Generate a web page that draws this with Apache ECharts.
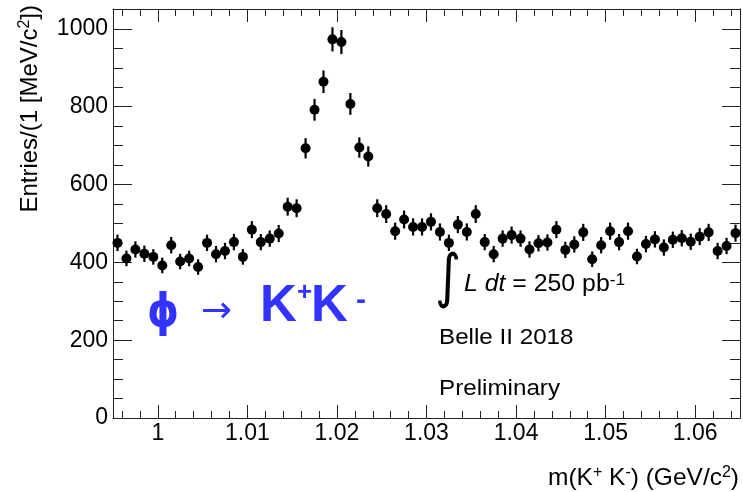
<!DOCTYPE html>
<html><head><meta charset="utf-8">
<script src="https://cdn.jsdelivr.net/npm/echarts@6/dist/echarts.min.js"></script>
<style>html,body{margin:0;padding:0;background:#fff}#c{width:743px;height:492px}</style>
</head><body><div id="c"></div>
<script>
// bin centres (GeV/c^2), 1 MeV bins from 0.995 to 1.065
const massBins = [
 0.9955,0.9965,0.9975,0.9985,0.9995,1.0005,1.0015,1.0025,1.0035,1.0045,
 1.0055,1.0065,1.0075,1.0085,1.0095,1.0105,1.0115,1.0125,1.0135,1.0145,
 1.0155,1.0165,1.0175,1.0185,1.0195,1.0205,1.0215,1.0225,1.0235,1.0245,
 1.0255,1.0265,1.0275,1.0285,1.0295,1.0305,1.0315,1.0325,1.0335,1.0345,
 1.0355,1.0365,1.0375,1.0385,1.0395,1.0405,1.0415,1.0425,1.0435,1.0445,
 1.0455,1.0465,1.0475,1.0485,1.0495,1.0505,1.0515,1.0525,1.0535,1.0545,
 1.0555,1.0565,1.0575,1.0585,1.0595,1.0605,1.0615,1.0625,1.0635,1.0645
];
const entries = [
 450,410,433,422,414,392,444,402,410,388,
 450,421,429,452,414,484,452,461,474,543,
 539,693,792,864,973,966,807,695,672,539,
 524,480,510,491,491,504,478,450,497,478,
 524,452,421,461,470,461,433,449,451,484,
 432,446,477,408,444,480,452,480,415,447,
 459,438,458,462,453,466,477,429,442,475
];
const errors = [
 21,20,21,21,20,20,21,20,20,20,
 21,21,21,21,20,22,21,21,22,23,
 23,26,28,29,31,31,28,26,26,23,
 23,22,23,22,22,22,22,21,22,22,
 23,21,21,21,22,21,21,21,21,22,
 21,21,22,20,21,22,21,22,20,21,
 21,21,21,21,21,22,22,21,21,22
];
const xTickLabels = ['1','1.01','1.02','1.03','1.04','1.05','1.06'];
const yTickLabels = ['0','200','400','600','800','1000'];

const FONT = '"Liberation Sans", Arial, Helvetica, sans-serif';
const BLUE = '#3333ff';
const AX = '#222';

function pickLabel(list, v) {
  const s = list.find(l => Math.abs(parseFloat(l) - v) < 1e-7);
  return s === undefined ? '' : s;
}

function xAxisCfg(pos, showLabel) {
  return {
    type: 'value', min: 0.995, max: 1.065, splitNumber: 7, position: pos,
    axisLine: { show: true, onZero: false, lineStyle: { color: AX, width: 1 } },
    axisTick: { show: true, inside: true, length: 13, lineStyle: { color: AX, width: 1 } },
    minorTick: { show: true, splitNumber: 5, length: 7, lineStyle: { color: AX, width: 1 } },
    axisLabel: { show: showLabel, margin: 4, fontSize: 23, color: '#000', fontFamily: FONT,
      showMinLabel: false, showMaxLabel: false,
      formatter: v => pickLabel(xTickLabels, v) },
    splitLine: { show: false }, minorSplitLine: { show: false }
  };
}
function yAxisCfg(pos, showLabel, len, mlen) {
  return {
    type: 'value', min: 0, max: 1051, interval: 200, position: pos,
    axisLine: { show: true, onZero: false, lineStyle: { color: AX, width: 1 } },
    axisTick: { show: true, inside: true, length: len, lineStyle: { color: AX, width: 1 } },
    minorTick: { show: true, splitNumber: 4, length: mlen, lineStyle: { color: AX, width: 1 } },
    axisLabel: { show: showLabel, margin: 5, fontSize: 23, color: '#000', fontFamily: FONT,
      showMinLabel: true, showMaxLabel: false,
      formatter: v => pickLabel(yTickLabels, v) },
    splitLine: { show: false }, minorSplitLine: { show: false }
  };
}

const chart = echarts.init(document.getElementById('c'), null, { renderer: 'canvas' });
chart.setOption({
  animation: false,
  backgroundColor: '#fff',
  grid: { left: 113, right: 3, top: 9, bottom: 74, containLabel: false },
  xAxis: [xAxisCfg('bottom', true), xAxisCfg('top', false)],
  yAxis: [yAxisCfg('left', true, 19, 10), yAxisCfg('right', false, 18, 10)],
  series: [
    {
      type: 'custom', xAxisIndex: 0, yAxisIndex: 0, silent: true, z: 2,
      data: massBins.map((m, i) => [m, entries[i] - errors[i], entries[i] + errors[i]]),
      encode: { x: 0, y: [1, 2] },
      renderItem: (params, api) => {
        const x = api.value(0);
        const lo = api.coord([x, api.value(1)]);
        const hi = api.coord([x, api.value(2)]);
        return { type: 'line', shape: { x1: lo[0], y1: lo[1], x2: hi[0], y2: hi[1] },
          style: { stroke: '#000', lineWidth: 2.2 } };
      }
    },
    {
      type: 'scatter', xAxisIndex: 0, yAxisIndex: 0, silent: true, z: 3,
      data: massBins.map((m, i) => [m, entries[i]]),
      symbol: 'circle', symbolSize: 10,
      itemStyle: { color: '#000', opacity: 1 }
    }
  ],
  graphic: [
    { type: 'text', x: 30, y: 5, rotation: Math.PI / 2, style: {
      text: '{a|Entries/(1 [MeV/c}{s|2}{a|])}', align: 'right', verticalAlign: 'middle',
      rich: { a: { fontSize: 24, fontFamily: FONT, fill: '#000', lineHeight: 26 },
              s: { fontSize: 16, fontFamily: FONT, fill: '#000', verticalAlign: 'top', lineHeight: 16 } } } },
    { type: 'text', x: 739, y: 478, style: {
      text: '{a|m(K}{s|+}{a| K}{s|-}{a|) (GeV/c}{s|2}{a|)}', align: 'right', verticalAlign: 'middle',
      rich: { a: { fontSize: 24.5, fontFamily: FONT, fill: '#000', lineHeight: 26 },
              s: { fontSize: 16, fontFamily: FONT, fill: '#000', verticalAlign: 'top', lineHeight: 16 } } } },
    { type: 'text', x: 147, y: 314, scaleX: 0.86, style: { text: '\u03D5', font: 'bold 47px "DejaVu Sans"', fill: BLUE, align: 'left', verticalAlign: 'middle' } },
    { type: 'text', x: 201, y: 312, style: { text: '\u2192', font: '37px "DejaVu Sans"', fill: BLUE, align: 'left', verticalAlign: 'middle' } },
    { type: 'text', x: 260, y: 307, style: { text: 'K', font: 'bold 51px ' + FONT, fill: BLUE, align: 'left', verticalAlign: 'middle' } },
    { type: 'text', x: 297, y: 293, style: { text: '+', font: 'bold 26px ' + FONT, fill: BLUE, align: 'left', verticalAlign: 'middle' } },
    { type: 'text', x: 311, y: 307, style: { text: 'K', font: 'bold 51px ' + FONT, fill: BLUE, align: 'left', verticalAlign: 'middle' } },
    { type: 'text', x: 356, y: 301, style: { text: '-', font: 'bold 30px ' + FONT, fill: BLUE, align: 'left', verticalAlign: 'middle' } },
    { type: 'text', x: 435, y: 281, scaleY: 1.18, style: { text: '\u222B', font: '50px "DejaVu Sans"', fill: '#000', align: 'left', verticalAlign: 'middle' } },
    { type: 'text', x: 464, y: 285, scaleX: 1.08, style: {
      text: '{i|L dt}{n| = 250 pb}{s|-1}', align: 'left', verticalAlign: 'middle',
      rich: { i: { fontSize: 23, fontFamily: FONT, fontStyle: 'italic', fill: '#000', lineHeight: 25 },
              n: { fontSize: 23, fontFamily: FONT, fill: '#000', lineHeight: 25 },
              s: { fontSize: 16, fontFamily: FONT, fill: '#000', verticalAlign: 'top', lineHeight: 16 } } } },
    { type: 'text', x: 439, y: 338, scaleX: 1.1, style: { text: 'Belle II 2018', font: '22px ' + FONT, fill: '#000', align: 'left', verticalAlign: 'middle' } },
    { type: 'text', x: 439, y: 389, scaleX: 1.1, style: { text: 'Preliminary', font: '22px ' + FONT, fill: '#000', align: 'left', verticalAlign: 'middle' } }
  ]
});
</script>
</body></html>
